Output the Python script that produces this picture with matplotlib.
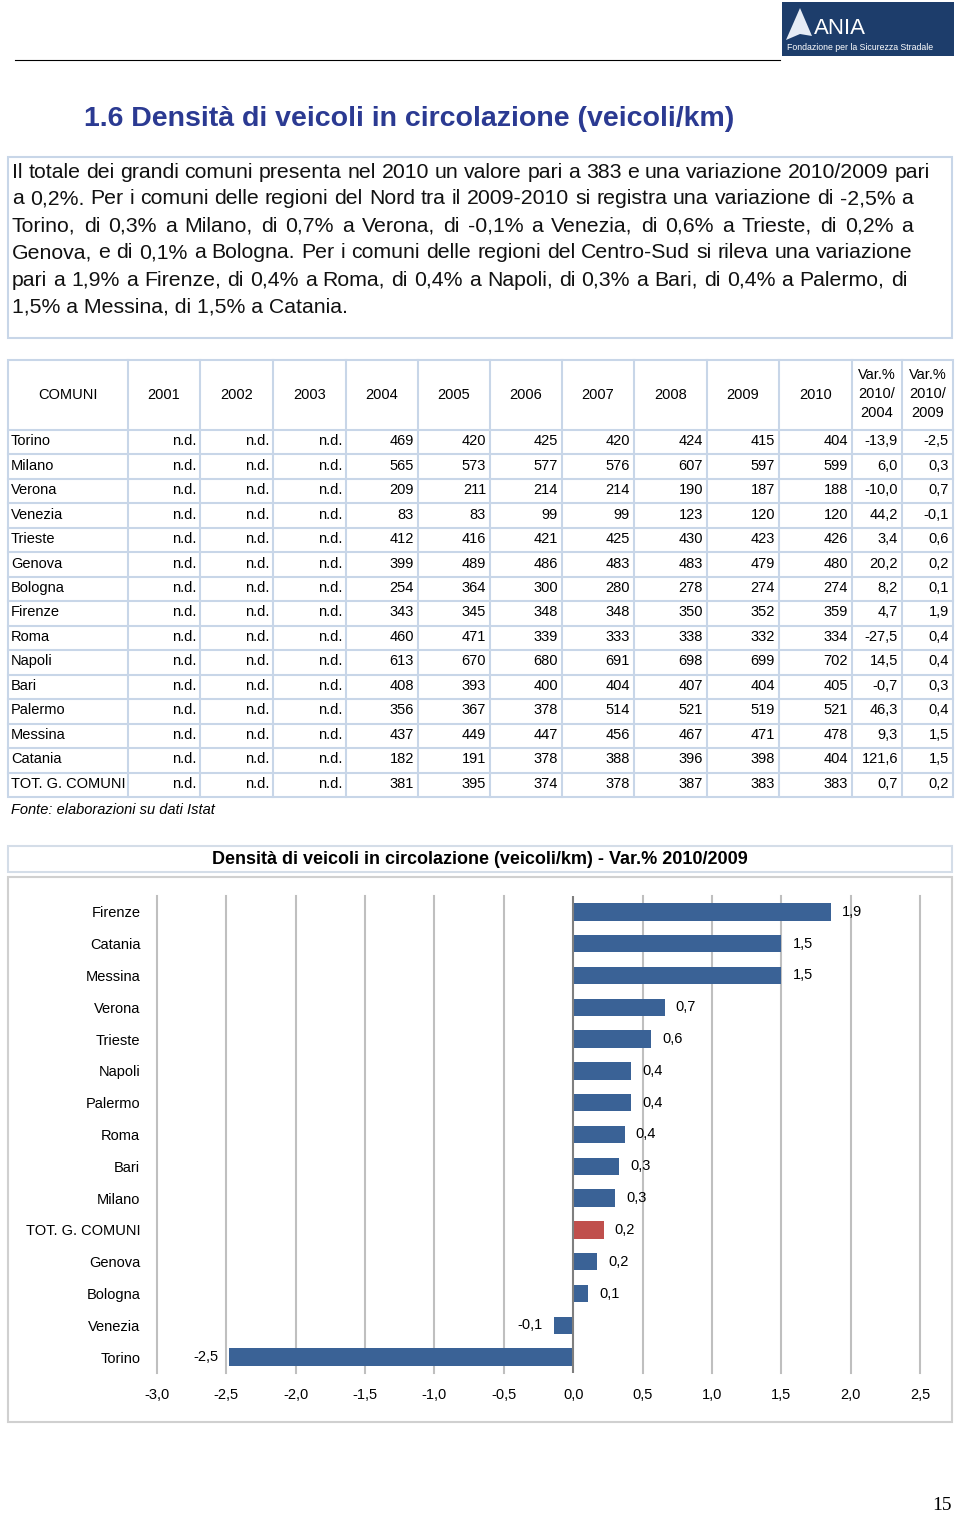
import numpy as np
import matplotlib
matplotlib.use("Agg")
import matplotlib.pyplot as plt
from matplotlib.patches import Rectangle, Polygon

plt.rcParams['font.family'] = ['Liberation Sans', 'DejaVu Sans']

# ---- data ----
comuni = ["Torino", "Milano", "Verona", "Venezia", "Trieste", "Genova", "Bologna",
          "Firenze", "Roma", "Napoli", "Bari", "Palermo", "Messina", "Catania",
          "TOT. G. COMUNI"]
anni = ["2001", "2002", "2003", "2004", "2005", "2006", "2007", "2008", "2009", "2010"]
d2004 = [469, 565, 209, 83, 412, 399, 254, 343, 460, 613, 408, 356, 437, 182, 381]
d2005 = [420, 573, 211, 83, 416, 489, 364, 345, 471, 670, 393, 367, 449, 191, 395]
d2006 = [425, 577, 214, 99, 421, 486, 300, 348, 339, 680, 400, 378, 447, 378, 374]
d2007 = [420, 576, 214, 99, 425, 483, 280, 348, 333, 691, 404, 514, 456, 388, 378]
d2008 = [424, 607, 190, 123, 430, 483, 278, 350, 338, 698, 407, 521, 467, 396, 387]
d2009 = [415, 597, 187, 120, 423, 479, 274, 352, 332, 699, 404, 519, 471, 398, 383]
d2010 = [404, 599, 188, 120, 426, 480, 274, 359, 334, 702, 405, 521, 478, 404, 383]
var_04 = [-13.9, 6.0, -10.0, 44.2, 3.4, 20.2, 8.2, 4.7, -27.5, 14.5, -0.7, 46.3, 9.3, 121.6, 0.7]
var_09 = [-2.5, 0.3, 0.7, -0.1, 0.6, 0.2, 0.1, 1.9, 0.4, 0.4, 0.3, 0.4, 1.5, 1.5, 0.2]

chart_cats = ["Firenze", "Catania", "Messina", "Verona", "Trieste", "Napoli", "Palermo",
              "Roma", "Bari", "Milano", "TOT. G. COMUNI", "Genova", "Bologna",
              "Venezia", "Torino"]
chart_vals = [1.86, 1.50, 1.50, 0.66, 0.56, 0.42, 0.42, 0.37, 0.33, 0.30, 0.22,
              0.17, 0.11, -0.14, -2.48]
xticks = [-3.0, -2.5, -2.0, -1.5, -1.0, -0.5, 0.0, 0.5, 1.0, 1.5, 2.0, 2.5]

testo = [
    "Il totale dei grandi comuni presenta nel 2010 un valore pari a 383 e una variazione 2010/2009 pari",
    "a 0,2%. Per i comuni delle regioni del Nord tra il 2009-2010 si registra una variazione di -2,5% a",
    "Torino, di 0,3% a Milano, di 0,7% a Verona, di  -0,1% a Venezia, di 0,6% a Trieste, di 0,2% a",
    "Genova, e di 0,1% a Bologna. Per i comuni delle regioni del Centro-Sud si rileva una variazione",
    "pari a 1,9% a Firenze, di 0,4% a Roma, di 0,4% a Napoli, di 0,3% a Bari, di 0,4% a Palermo, di",
    "1,5% a Messina, di 1,5% a Catania.",
]
line_right = [930, 913, 913, 913, 907, None]  # right end of each justified line (px)

def fmt(v, nd=1):
    return f"{v:.{nd}f}".replace(".", ",")

W, H = 960, 1515
fig = plt.figure(figsize=(W / 100, H / 100), dpi=100)
fig.patch.set_facecolor("white")
bg = fig.add_axes([0, 0, 1, 1])
bg.set_xlim(0, W)
bg.set_ylim(H, 0)
bg.axis("off")
renderer = fig.canvas.get_renderer()

border = "#C8D6E8"

# header: rule + logo
bg.plot([15, 780], [60, 60], color="black", lw=0.8)
bg.add_patch(Rectangle((782, 2), 172, 54, facecolor="#1D3D6B", edgecolor="none"))
bg.add_patch(Polygon([[786, 40], [800, 8], [806, 22], [812, 36], [800, 34]],
                     closed=True, facecolor="#E6ECF5", edgecolor="none"))
bg.text(814, 29, "ANIA", color="white", fontsize=16, va="center", ha="left")
bg.text(787, 47, "Fondazione per la Sicurezza Stradale", color="white",
        fontsize=6.3, va="center", ha="left")

# title
bg.text(84, 119, "1.6 Densità di veicoli in circolazione (veicoli/km)",
        color="#2B3A92", fontsize=20.5, fontweight="bold", va="center", ha="left")

# text box with justified lines
bg.add_patch(Rectangle((8, 157), 944, 181, facecolor="white", edgecolor=border, lw=1.5))
pfs = 15.3
for i, line in enumerate(testo):
    y = 172 + i * 27
    words = line.split()
    if line_right[i] is None:
        bg.text(12, y, line, fontsize=pfs, va="center", ha="left", color="#111111")
        continue
    arts = [bg.text(0, y, w, fontsize=pfs, va="center", ha="left", color="#111111")
            for w in words]
    widths = [a.get_window_extent(renderer).width for a in arts]
    gap = (line_right[i] - 12 - sum(widths)) / (len(words) - 1)
    x = 12
    for a, wd in zip(arts, widths):
        a.set_x(x)
        x += wd + gap

# table
col_edges = [8, 128, 200, 273, 346, 418, 490, 562, 634, 707, 779, 852, 902, 953]
top, head_bot = 360, 430
row_h = (797 - 430) / 15
bot = head_bot + row_h * len(comuni)
bg.add_patch(Rectangle((col_edges[0], top), col_edges[-1] - col_edges[0], bot - top,
                       facecolor="white", edgecolor=border, lw=1.5))
for x in col_edges[1:-1]:
    bg.plot([x, x], [top, bot], color=border, lw=1.5)
for k in range(len(comuni)):
    y = head_bot + k * row_h
    bg.plot([col_edges[0], col_edges[-1]], [y, y], color=border, lw=1.5)

tfs = 10.5
hy = (top + head_bot) / 2
bg.text((col_edges[0] + col_edges[1]) / 2, hy, "COMUNI", fontsize=tfs, ha="center", va="center")
for j, a in enumerate(anni):
    bg.text((col_edges[j + 1] + col_edges[j + 2]) / 2, hy, a, fontsize=tfs,
            ha="center", va="center")
for j, sub in enumerate(["2004", "2009"]):
    cx = (col_edges[11 + j] + col_edges[12 + j]) / 2
    bg.text(cx, hy - 1, "Var.%\n2010/\n" + sub, fontsize=tfs, ha="center", va="center",
            linespacing=1.45)

cols = [d2004, d2005, d2006, d2007, d2008, d2009, d2010]
for i, nome in enumerate(comuni):
    y = head_bot + i * row_h + row_h / 2 - 1
    bg.text(11, y, nome, fontsize=tfs, ha="left", va="center")
    for j in range(3):
        bg.text(col_edges[j + 2] - 4, y, "n.d.", fontsize=tfs, ha="right", va="center")
    for j, c in enumerate(cols):
        bg.text(col_edges[j + 5] - 4, y, str(c[i]), fontsize=tfs, ha="right", va="center")
    bg.text(col_edges[12] - 4, y, fmt(var_04[i]), fontsize=tfs, ha="right", va="center")
    bg.text(col_edges[13] - 4, y, fmt(var_09[i]), fontsize=tfs, ha="right", va="center")

bg.text(11, 810, "Fonte: elaborazioni su dati Istat", fontsize=10.5, style="italic",
        ha="left", va="center")

# chart title box and chart frame
bg.add_patch(Rectangle((8, 846), 944, 26, facecolor="white", edgecolor="#D4DDE8", lw=1.5))
bg.text(480, 859, "Densità di veicoli in circolazione (veicoli/km) - Var.% 2010/2009",
        fontsize=13, fontweight="bold", ha="center", va="center")
bg.add_patch(Rectangle((8, 877), 944, 545, facecolor="white", edgecolor="#D0D0D0", lw=1.5))

# page number
bg.text(942, 1505, "15", fontsize=14, family="Liberation Serif", ha="center", va="center")

# ---- bar chart ----
ax = fig.add_axes([157 / W, 1 - 1373 / H, (920 - 157) / W, 477 / H])
ypos = np.arange(len(chart_cats))
colors = ["#C0504D" if c == "TOT. G. COMUNI" else "#3A6296" for c in chart_cats]
ax.barh(ypos, chart_vals, height=0.55, color=colors, zorder=3)
ax.set_xlim(-3.0, 2.5)
ax.set_ylim(len(chart_cats) - 0.5, -0.5)
ax.set_xticks(xticks)
ax.set_xticklabels([fmt(t) for t in xticks], fontsize=10.5)
ax.set_yticks(ypos)
ax.set_yticklabels(chart_cats, fontsize=10.5)
ax.tick_params(axis="both", length=0)
ax.tick_params(axis="x", pad=11)
ax.tick_params(axis="y", pad=12)
for s in ax.spines.values():
    s.set_visible(False)
for t in xticks:
    if t != 0:
        ax.axvline(t, color="#BFBFBF", lw=1.5, zorder=0, clip_on=False)
ax.axvline(0, color="#7F7F7F", lw=1.5, zorder=4)
for yv, v in zip(ypos, chart_vals):
    off = 8 if v >= 0 else -8
    ax.annotate(fmt(v), (v, yv), xytext=(off, 0), textcoords="offset points",
                ha="left" if v >= 0 else "right", va="center", fontsize=10.5, zorder=5)
ax.set_facecolor("none")

fig.savefig("out.png", dpi=100)
